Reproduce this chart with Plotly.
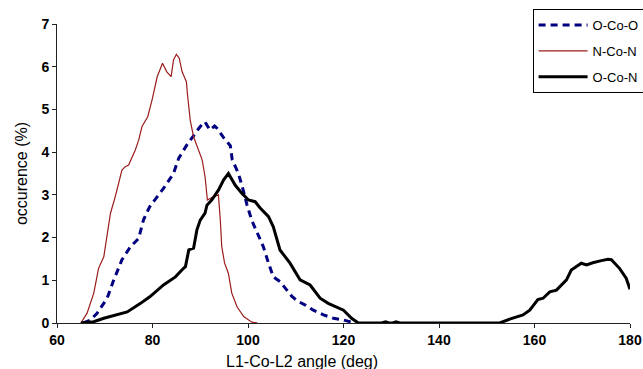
import plotly.graph_objects as go

# ---- data ----
x_ooo = [65.5, 67.0, 68.4, 70.5, 71.9, 73.6, 75.4, 77.1, 78.1, 79.4, 81.0, 82.3, 84.4, 85.5, 87.2, 89.0,
         90.0, 91.0, 92.0, 93.0, 93.5, 94.9, 96.3, 96.7, 98.0, 99.0, 99.8, 100.8, 102.2, 103.2, 104.3,
         105.3, 106.7, 107.8, 109.2, 110.6, 112.0, 113.7, 115.8, 117.9, 120.0, 122.1, 123.0]
y_ooo = [0, 0.07, 0.23, 0.58, 1.01, 1.48, 1.79, 1.98, 2.41, 2.72, 2.96, 3.15, 3.50, 3.86, 4.17, 4.44,
         4.60, 4.71, 4.52, 4.61, 4.56, 4.34, 4.15, 3.82, 3.50, 3.11, 2.76, 2.40, 2.06, 1.79, 1.40,
         1.08, 0.97, 0.81, 0.62, 0.50, 0.42, 0.30, 0.19, 0.11, 0.07, 0.01, 0]

x_nn = [65.0, 66.3, 67.7, 68.7, 69.8, 70.5, 71.2, 72.2, 73.6, 74.3, 75.0, 76.4, 77.1, 77.8, 79.0, 79.9,
        81.0, 82.1, 83.0, 83.9, 84.4, 85.0, 85.6, 86.2, 87.1, 87.3, 87.9, 88.6, 89.3, 90.4, 91.0, 91.5,
        92.6, 93.8, 94.2, 94.5, 95.1, 95.9, 96.6, 97.7, 99.1, 100.8, 102.0]
y_nn = [0, 0.23, 0.70, 1.28, 1.55, 2.10, 2.57, 2.96, 3.58, 3.66, 3.70, 4.05, 4.28, 4.60, 4.83, 5.22,
        5.77, 6.08, 5.88, 5.77, 6.16, 6.29, 6.20, 5.88, 5.65, 5.38, 4.75, 4.36, 4.13, 3.82, 3.43, 2.88,
        2.95, 3.00, 2.41, 1.79, 1.40, 1.16, 0.70, 0.38, 0.15, 0.02, 0]

x_on = [65.0, 67.7, 69.8, 72.6, 74.7, 77.5, 79.5, 82.3, 84.8, 86.5, 86.9, 87.6, 88.6, 89.3, 90.0, 91.0,
        91.4, 92.4, 93.8, 94.9, 95.9, 97.3, 98.7, 100.1, 101.5, 102.5, 104.3, 105.3, 106.7, 108.8,
        110.9, 113.0, 115.1, 116.8, 120.0, 121.7, 123.1, 128.0, 128.8, 129.5, 130.3, 131.0, 131.8,
        140.0, 152.7, 154.8, 156.6, 157.6, 159.0, 160.0, 160.7, 161.8, 163.2, 164.6, 166.7, 167.7,
        168.8, 169.8, 170.9, 172.2, 174.0, 175.4, 176.1, 177.8, 179.2, 180.0]
y_on = [0, 0.03, 0.11, 0.19, 0.26, 0.46, 0.62, 0.89, 1.08, 1.28, 1.32, 1.71, 1.75, 2.18, 2.41, 2.57,
        2.76, 2.88, 3.11, 3.35, 3.50, 3.23, 3.04, 2.88, 2.84, 2.70, 2.49, 2.25, 1.71, 1.40,
        1.01, 0.89, 0.58, 0.46, 0.30, 0.11, 0, 0, 0.03, 0, 0, 0.03, 0,
        0, 0, 0.09, 0.16, 0.19, 0.30, 0.46, 0.55, 0.58, 0.73, 0.77, 1.01, 1.24,
        1.32, 1.40, 1.36, 1.41, 1.46, 1.49, 1.48, 1.28, 1.05, 0.79]

names = ["O-Co-O", "N-Co-N", "O-Co-N"]
x_ticks = [60, 80, 100, 120, 140, 160, 180]
y_ticks = [0, 1, 2, 3, 4, 5, 6, 7]

FONT = "Liberation Sans"

fig = go.Figure()
fig.add_trace(go.Scatter(x=x_ooo, y=y_ooo, mode="lines", name=names[0], legendgroup="a",
                         line=dict(color="#000080", width=3, dash="7px,5px")))
fig.add_trace(go.Scatter(x=x_nn, y=y_nn, mode="lines", name=names[1], legendgroup="b",
                         line=dict(color="#9B1C1C", width=1.2)))
fig.add_trace(go.Scatter(x=x_on, y=y_on, mode="lines", name=names[2], legendgroup="c",
                         line=dict(color="#000000", width=3)))

fig.update_layout(
    width=643, height=369,
    margin=dict(l=56.5, r=12.5, t=24, b=46, pad=0, autoexpand=False),
    paper_bgcolor="white", plot_bgcolor="white",
    font=dict(family=FONT, color="black"),
    showlegend=True,
    legend=dict(x=0.830, y=1.05, xanchor="left", yanchor="top",
                bordercolor="black", borderwidth=1, bgcolor="white",
                font=dict(family=FONT, size=13, color="black"),
                tracegroupgap=6, itemwidth=49, entrywidth=130, entrywidthmode="pixels"),
    xaxis=dict(range=[60, 180], tickvals=x_ticks, ticktext=["<b>%d</b>" % v for v in x_ticks],
               showgrid=False, zeroline=False, showline=True, linecolor="#222", linewidth=1,
               ticks="outside", ticklen=4, tickcolor="#222",
               tickfont=dict(family=FONT, size=14, color="black")),
    yaxis=dict(range=[0, 7], tickvals=y_ticks, ticktext=["<b>%d</b>" % v for v in y_ticks],
               showgrid=False, zeroline=False, showline=True, linecolor="#222", linewidth=1,
               ticks="outside", ticklen=4, tickcolor="#222",
               tickfont=dict(family=FONT, size=14, color="black"),
               title=dict(text="occurence (%)", font=dict(family=FONT, size=16, color="black"),
                          standoff=9)),
    annotations=[dict(text="L1-Co-L2 angle (deg)", xref="paper", yref="paper",
                      x=0.428, y=-0.095, xanchor="center", yanchor="top", showarrow=False,
                      font=dict(family=FONT, size=16, color="black"))],
)

fig.write_html("out.html", config={"displayModeBar": False},
               post_script="document.body.style.margin='0px';document.body.style.overflow='hidden';")
